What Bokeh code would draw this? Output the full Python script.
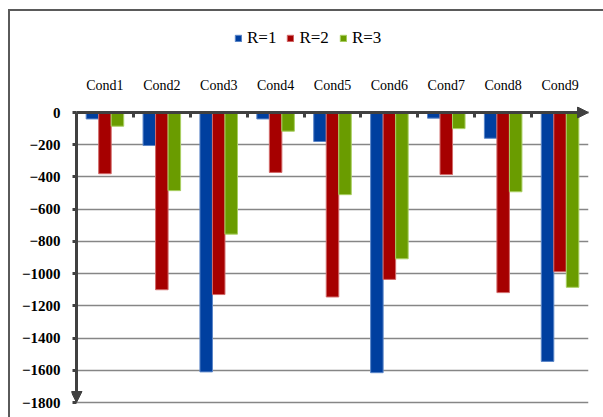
from bokeh.plotting import figure
from bokeh.layouts import column
from bokeh.models import Range1d, FixedTicker, Legend, LegendItem, Arrow, NormalHead, Grid
from bokeh.embed import file_html
from bokeh.resources import INLINE
import numpy as np

categories = ["Cond1", "Cond2", "Cond3", "Cond4", "Cond5", "Cond6", "Cond7", "Cond8", "Cond9"]
series_names = ["R=1", "R=2", "R=3"]
r1 = [-40, -205, -1610, -40, -180, -1615, -35, -160, -1545]
r2 = [-380, -1100, -1130, -372, -1145, -1036, -385, -1118, -988]
r3 = [-85, -485, -755, -116, -510, -908, -100, -492, -1085]
y_ticks = list(range(-1800, 1, 200))

fills = ["#003F9F", "#A60000", "#6A9C00"]
edges = ["#5B86C8", "#D26A6A", "#A9CF62"]
axis_col = "#404040"
FONT = "'Liberation Serif', 'Times New Roman', serif"

n = len(categories)
centers = np.arange(n)
boundaries = list(centers[:-1] + 0.5)
bw = 0.22
offsets = [-bw, 0.0, bw]

W = 593
HL = 45           # legend strip height
H = 406 - HL      # main chart height
ml, mr, mt, mb = 61, 15, 50, 13
ext_left, ext_top, ext_bot = 5, 6, 2       # px of room around the axes for the arrow heads
ux = n / 512.0          # data units per px (x)
uy = 1800 / 290.0       # data units per px (y)
x_lo, x_hi = -0.5, n - 0.5
y_lo, y_hi = min(y_ticks), max(y_ticks)

# ---- legend strip ----
pl = figure(width=W, height=HL, output_backend="svg", toolbar_location=None,
            x_axis_type=None, y_axis_type=None, x_range=Range1d(0, 1), y_range=Range1d(0, 1),
            min_border_left=0, min_border_right=0, min_border_top=0, min_border_bottom=0)
pl.outline_line_color = None
pl.xgrid.visible = False
pl.ygrid.visible = False
leg_renderers = [pl.vbar(x=[-9], top=[0], bottom=[-1], width=0.5, fill_color=fc, line_color=ec)
                 for fc, ec in zip(fills, edges)]
legend = Legend(items=[LegendItem(label=nm, renderers=[r]) for nm, r in zip(series_names, leg_renderers)],
                orientation="horizontal", location=(163, 8),
                glyph_width=8, glyph_height=8, label_standoff=5, spacing=10, label_height=17,
                padding=0, margin=0, border_line_alpha=0, background_fill_alpha=0,
                label_text_font=FONT, label_text_font_size="17px", label_text_color="black")
pl.add_layout(legend)

# ---- main chart ----
p = figure(width=W, height=H, output_backend="svg", toolbar_location=None,
           x_range=Range1d(x_lo - ext_left * ux, x_hi),
           y_range=Range1d(y_lo - ext_bot * uy, y_hi + ext_top * uy),
           x_axis_location="above",
           min_border_left=ml, min_border_right=mr, min_border_top=mt, min_border_bottom=mb)
p.outline_line_color = None

for vals, fc, ec, off in zip([r1, r2, r3], fills, edges, offsets):
    p.vbar(x=centers + off, top=0, bottom=vals, width=bw,
           fill_color=fc, line_color=ec, line_width=1)

# axes: labels only (lines/ticks drawn below inside the frame)
p.yaxis.ticker = FixedTicker(ticks=y_ticks)
p.yaxis.axis_line_color = None
p.yaxis.major_tick_line_color = None
p.yaxis.minor_tick_line_color = None
p.yaxis.major_label_text_font = FONT
p.yaxis.major_label_text_font_size = "15px"
p.yaxis.major_label_text_font_style = "bold"
p.yaxis.major_label_text_color = "black"
p.yaxis.major_label_standoff = 5

p.xaxis.ticker = FixedTicker(ticks=list(centers))
p.xaxis.major_label_overrides = {int(i): c for i, c in zip(centers, categories)}
p.xaxis.axis_line_color = None
p.xaxis.major_tick_line_color = None
p.xaxis.minor_tick_line_color = None
p.xaxis.major_label_text_font = FONT
p.xaxis.major_label_text_font_size = "14px"
p.xaxis.major_label_text_color = "black"
p.xaxis.major_label_standoff = 8

# gridlines
p.xgrid.visible = False
p.ygrid.ticker = FixedTicker(ticks=y_ticks)
p.ygrid.cross_bounds = (x_lo, x_hi)
p.ygrid.grid_line_color = "#868686"
p.ygrid.grid_line_width = 1.5

# y tick marks (left of the axis) and category boundary ticks (below the axis)
p.add_layout(Grid(dimension=1, ticker=FixedTicker(ticks=y_ticks), cross_bounds=(x_lo - 4.5 * ux, x_lo),
                  grid_line_color=axis_col, grid_line_width=3))
p.add_layout(Grid(dimension=0, ticker=FixedTicker(ticks=boundaries), cross_bounds=(y_hi - 4.5 * uy, y_hi),
                  grid_line_color=axis_col, grid_line_width=3))

# axis lines with arrow heads
p.add_layout(Arrow(end=NormalHead(size=11, fill_color=axis_col, line_color=axis_col),
                   x_start=x_lo, y_start=y_hi, x_end=x_hi, y_end=y_hi,
                   line_color=axis_col, line_width=3))
p.add_layout(Arrow(end=NormalHead(size=11, fill_color=axis_col, line_color=axis_col),
                   x_start=x_lo, y_start=y_hi, x_end=x_lo, y_end=y_lo,
                   line_color=axis_col, line_width=3))

layout = column(pl, p, spacing=0)
layout.styles = {"margin-left": "8px", "margin-top": "9px",
                 "border-left": "2px solid #5a5a5a", "border-top": "2px solid #5a5a5a"}

open("out.html", "w").write(file_html(layout, INLINE))
